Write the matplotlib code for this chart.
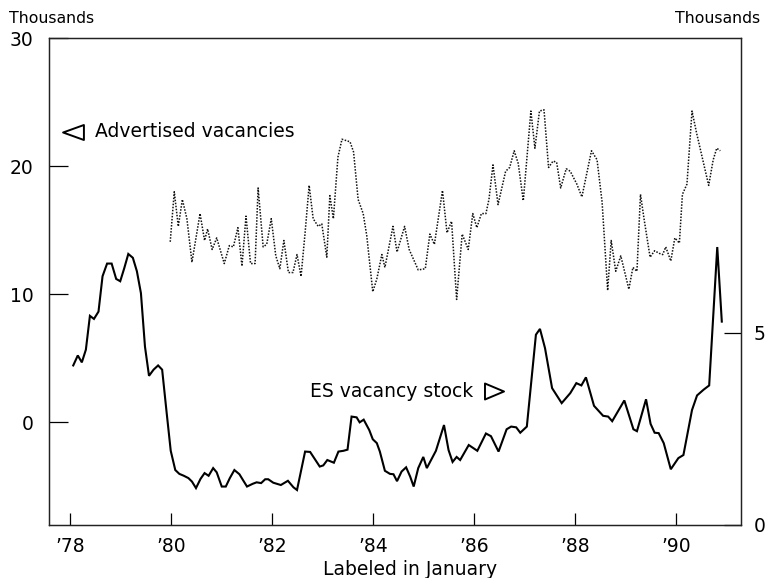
import matplotlib
matplotlib.use("Agg")
import matplotlib.pyplot as plt
from matplotlib.path import Path

plt.rcParams['font.family'] = ['DejaVu Sans']

# Advertised vacancies (left scale, thousands), dated in decimal years
adv_t = [1979.99, 1980.07, 1980.15, 1980.23, 1980.32, 1980.42, 1980.58, 1980.67, 1980.73, 1980.82,
         1980.91, 1981.06, 1981.16, 1981.24, 1981.33, 1981.41, 1981.49, 1981.58, 1981.67, 1981.73,
         1981.83, 1981.90, 1981.99, 1982.08, 1982.16, 1982.24, 1982.33, 1982.42, 1982.50, 1982.58,
         1982.66, 1982.74, 1982.82, 1982.92, 1982.99, 1983.09, 1983.15, 1983.22, 1983.31, 1983.39,
         1983.55, 1983.62, 1983.71, 1983.81, 1983.88, 1984.00, 1984.08, 1984.18, 1984.24, 1984.40,
         1984.48, 1984.63, 1984.72, 1984.90, 1985.04, 1985.13, 1985.22, 1985.38, 1985.47, 1985.56,
         1985.66, 1985.77, 1985.89, 1985.98, 1986.06, 1986.15, 1986.24, 1986.30, 1986.38, 1986.48,
         1986.63, 1986.71, 1986.80, 1986.88, 1986.98, 1987.13, 1987.21, 1987.30, 1987.39, 1987.48,
         1987.57, 1987.64, 1987.72, 1987.83, 1987.91, 1988.04, 1988.14, 1988.24, 1988.33, 1988.44,
         1988.54, 1988.65, 1988.72, 1988.81, 1988.91, 1989.07, 1989.15, 1989.23, 1989.30, 1989.37,
         1989.49, 1989.58, 1989.67, 1989.74, 1989.80, 1989.90, 1989.98, 1990.07, 1990.13, 1990.22,
         1990.32, 1990.41, 1990.65, 1990.74, 1990.81, 1990.88]
adv_v = [14.1, 18.0, 15.3, 17.4, 15.9, 12.5, 16.3, 14.2, 15.1, 13.5,
         14.4, 12.4, 13.8, 13.7, 15.2, 12.2, 16.1, 12.4, 12.4, 18.3,
         13.7, 13.9, 15.9, 13.0, 12.0, 14.2, 11.7, 11.7, 13.1, 11.4,
         14.8, 18.5, 15.9, 15.3, 15.5, 12.9, 17.7, 15.9, 20.7, 22.1,
         21.9, 21.1, 17.4, 16.3, 14.6, 10.2, 11.2, 13.1, 12.1, 15.3,
         13.3, 15.3, 13.5, 11.9, 12.0, 14.7, 13.9, 18.1, 14.8, 15.7,
         9.6, 14.7, 13.5, 16.3, 15.2, 16.3, 16.3, 17.4, 20.1, 17.0,
         19.6, 19.9, 21.2, 20.2, 17.3, 24.3, 21.4, 24.3, 24.4, 19.9,
         20.4, 20.3, 18.3, 19.8, 19.6, 18.6, 17.6, 19.5, 21.2, 20.5,
         17.2, 10.3, 14.2, 11.8, 13.0, 10.4, 12.1, 11.8, 17.8, 15.9,
         12.9, 13.4, 13.2, 13.1, 13.7, 12.6, 14.4, 14.0, 17.8, 18.6,
         24.3, 22.6, 18.5, 20.5, 21.4, 21.2]

# Employment Service vacancy stock (right scale, thousands)
es_t = [1978.07, 1978.16, 1978.24, 1978.32, 1978.40, 1978.48, 1978.57, 1978.65, 1978.74, 1978.83,
        1978.92, 1979.00, 1979.08, 1979.16, 1979.25, 1979.33, 1979.41, 1979.49, 1979.57, 1979.66,
        1979.75, 1979.83, 1979.92, 1980.00, 1980.09, 1980.17, 1980.26, 1980.35, 1980.42, 1980.50,
        1980.59, 1980.67, 1980.75, 1980.84, 1980.91, 1981.01, 1981.09, 1981.17, 1981.26, 1981.36,
        1981.43, 1981.51, 1981.62, 1981.70, 1981.79, 1981.87, 1981.93, 1982.03, 1982.18, 1982.32,
        1982.43, 1982.50, 1982.66, 1982.76, 1982.95, 1983.02, 1983.10, 1983.23, 1983.32, 1983.42,
        1983.50, 1983.58, 1983.68, 1983.74, 1983.82, 1983.93, 1984.00, 1984.08, 1984.14, 1984.24,
        1984.34, 1984.41, 1984.48, 1984.57, 1984.66, 1984.74, 1984.81, 1984.90, 1985.00, 1985.07,
        1985.25, 1985.41, 1985.50, 1985.58, 1985.66, 1985.73, 1985.90, 1986.07, 1986.24, 1986.34,
        1986.49, 1986.65, 1986.74, 1986.84, 1986.92, 1987.05, 1987.23, 1987.31, 1987.41, 1987.55,
        1987.74, 1987.91, 1988.03, 1988.13, 1988.22, 1988.38, 1988.56, 1988.66, 1988.74, 1988.98,
        1989.16, 1989.23, 1989.41, 1989.50, 1989.58, 1989.66, 1989.76, 1989.90, 1990.05, 1990.15,
        1990.32, 1990.42, 1990.55, 1990.66, 1990.82, 1990.91]
es_v = [4.15, 4.41, 4.23, 4.56, 5.44, 5.36, 5.55, 6.47, 6.80, 6.80,
        6.40, 6.34, 6.68, 7.05, 6.95, 6.60, 6.03, 4.64, 3.88, 4.04,
        4.15, 4.04, 2.91, 1.93, 1.43, 1.33, 1.28, 1.22, 1.13, 0.96,
        1.20, 1.35, 1.28, 1.48, 1.37, 1.00, 1.00, 1.22, 1.43, 1.32,
        1.17, 1.00, 1.07, 1.11, 1.09, 1.19, 1.19, 1.10, 1.04, 1.15,
        0.98, 0.91, 1.91, 1.90, 1.52, 1.55, 1.69, 1.62, 1.91, 1.93,
        1.96, 2.82, 2.80, 2.67, 2.74, 2.47, 2.23, 2.13, 1.91, 1.41,
        1.33, 1.32, 1.14, 1.39, 1.50, 1.26, 1.00, 1.48, 1.77, 1.48,
        1.93, 2.60, 1.95, 1.64, 1.77, 1.69, 2.08, 1.93, 2.38, 2.31,
        1.91, 2.49, 2.56, 2.54, 2.40, 2.56, 4.95, 5.10, 4.60, 3.56,
        3.17, 3.43, 3.69, 3.63, 3.84, 3.10, 2.84, 2.82, 2.70, 3.24,
        2.49, 2.44, 3.27, 2.63, 2.40, 2.39, 2.13, 1.45, 1.74, 1.82,
        2.99, 3.37, 3.52, 3.63, 7.23, 5.29]

year_ticks = [1978, 1980, 1982, 1984, 1986, 1988, 1990]
year_labels = ['\u201978', '\u201980', '\u201982', '\u201984', '\u201986', '\u201988', '\u201990']
left_ticks = [0, 10, 20, 30]
right_ticks = [0, 5]

W, H = 767, 578
fig = plt.figure(figsize=(W / 100, H / 100), dpi=100)
ax = fig.add_axes([49 / W, (H - 525) / H, 692 / W, 487 / H])
ax2 = ax.twinx()

ax.plot(adv_t, adv_v, color='#111111', lw=1.1, linestyle=(0, (1, 1)))
ax2.plot(es_t, es_v, color='black', lw=1.5, solid_joinstyle='miter')

ax.set_xlim(1977.59, 1991.29)
ax.set_ylim(-8, 30)
ax2.set_ylim(0, 38 / 3)

ax.set_xticks(year_ticks)
ax.set_xticklabels(year_labels)
ax.set_yticks(left_ticks)
ax2.set_yticks(right_ticks)

ax.tick_params(axis='x', direction='in', length=9, width=0.9, pad=9, labelsize=13.5)
ax.tick_params(axis='y', direction='in', length=14, width=0.9, pad=11, labelsize=13.5)
ax2.tick_params(axis='y', direction='in', length=12, width=0.9, pad=9, labelsize=13.5)

for a in (ax, ax2):
    for s in a.spines.values():
        s.set_linewidth(0.9)
        s.set_color('#222222')

# Series labels with pointer triangles toward their scales
tri_left = Path([(-1, 0), (1, 0.72), (1, -0.72), (-1, 0)],
                [Path.MOVETO, Path.LINETO, Path.LINETO, Path.CLOSEPOLY])
tri_right = Path([(1, 0), (-1, 0.84), (-1, -0.84), (1, 0)],
                 [Path.MOVETO, Path.LINETO, Path.LINETO, Path.CLOSEPOLY])
ax.plot([0.034], [0.808], transform=ax.transAxes, marker=tri_left, markersize=15,
        markerfacecolor='none', markeredgecolor='black', markeredgewidth=1.4, clip_on=False)
ax.text(0.0665, 0.7957, 'Advertised vacancies', transform=ax.transAxes,
        ha='left', va='baseline', fontsize=13.5)
ax.plot([0.6426], [0.2752], transform=ax.transAxes, marker=tri_right, markersize=13.7,
        markerfacecolor='none', markeredgecolor='black', markeredgewidth=1.4, clip_on=False)
ax.text(0.6127, 0.2634, 'ES vacancy stock', transform=ax.transAxes,
        ha='right', va='baseline', fontsize=13.5)

fig.text(9 / W, 1 - 23.3 / H, 'Thousands', ha='left', va='baseline', fontsize=11.3)
fig.text(760 / W, 1 - 23.3 / H, 'Thousands', ha='right', va='baseline', fontsize=11.3)
fig.text(410 / W, 1 - 575 / H, 'Labeled in January', ha='center', va='baseline', fontsize=13.5)

fig.savefig('out.png', dpi=100)
